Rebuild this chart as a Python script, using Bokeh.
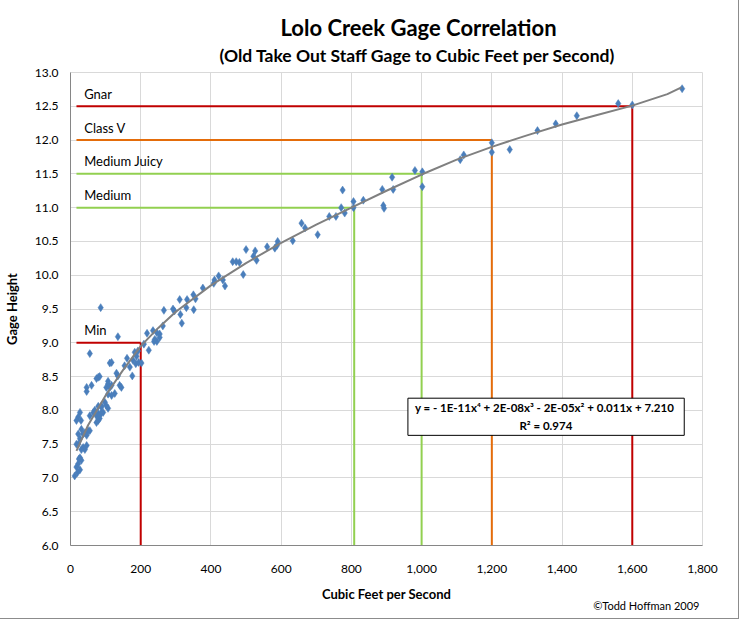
from bokeh.plotting import figure
from bokeh.models import Title, FixedTicker, NumeralTickFormatter, ColumnDataSource
from bokeh.core.properties import value
from bokeh.embed import file_html
from bokeh.resources import INLINE

# ---------------- data ----------------
title_text = "Lolo Creek Gage Correlation"
subtitle_text = "(Old Take Out Staff Gage to Cubic Feet per Second)"
x_label = "Cubic Feet per Second"
y_label = "Gage Height"
credit = "\u00a9Todd Hoffman 2009"
equation = "y =  - 1E-11x\u2074 + 2E-08x\u00b3 - 2E-05x\u00b2 + 0.011x + 7.210"
r_squared = "R\u00b2 = 0.974"

obs_cfs = [
    1742, 1600, 1560, 1442, 1382, 1330, 1251, 1200, 1200, 1120, 1110,
    1002, 1002, 981, 916, 919, 888, 891, 893, 834, 806, 806, 775, 771, 781, 756, 737,
    704, 668, 658, 633, 590, 588, 582, 560, 530, 521, 526, 500, 492, 481, 472, 462,
    440, 434, 410, 408, 422, 377,
    350, 356, 332, 311, 330, 351, 313, 317, 296, 292, 266, 263, 235, 246, 254, 218,
    238, 246, 223, 192, 209, 240, 254,
    86, 135, 55, 112, 117, 161, 183, 188, 178, 186, 194, 202, 169, 131, 135, 176,
    79, 83, 107, 154, 74,
    107, 102, 112, 117, 140, 145, 126, 117, 107, 46, 46, 60,
    98, 102, 107, 88, 93, 79, 69, 65, 74, 79, 83, 74, 27, 22, 30, 55, 17,
    31, 41, 50, 46, 36, 22, 27, 55,
    17, 22, 36, 41, 31, 46, 27, 31, 22, 17, 27, 12, 20, 24,
    88, 83, 79, 88,
]
obs_gage = [
    12.76, 12.52, 12.54, 12.36, 12.24, 12.14, 11.86, 11.96, 11.82, 11.78, 11.71,
    11.53, 11.31, 11.55, 11.45, 11.27, 11.27, 11.03, 10.99, 11.11, 11.09, 11.00, 11.26, 11.00, 10.92, 10.87, 10.87,
    10.60, 10.70, 10.77, 10.51, 10.50, 10.44, 10.40, 10.42, 10.22, 10.28, 10.36, 10.38, 10.01, 10.19, 10.20, 10.20,
    9.84, 9.93, 9.93, 9.88, 9.99, 9.81,
    9.71, 9.65, 9.64, 9.64, 9.52, 9.49, 9.42, 9.29, 9.47, 9.50, 9.48, 9.25, 9.18, 9.15, 9.13, 9.14,
    9.02, 9.02, 8.89, 8.88, 8.98, 9.05, 9.08,
    9.52, 9.09, 8.84, 8.70, 8.71, 8.77, 8.86, 8.80, 8.74, 8.69, 8.71, 8.70, 8.64, 8.55, 8.51, 8.51,
    8.49, 8.50, 8.43, 8.66, 8.47,
    8.39, 8.34, 8.34, 8.37, 8.37, 8.34, 8.25, 8.22, 8.24, 8.34, 8.28, 8.37,
    8.12, 8.07, 8.03, 8.05, 7.97, 7.95, 8.00, 7.97, 7.92, 7.85, 7.88, 7.82, 7.97, 7.90, 7.85, 7.92, 7.85,
    7.72, 7.67, 7.70, 7.63, 7.65, 7.65, 7.58, 7.70,
    7.50, 7.50, 7.45, 7.42, 7.42, 7.48, 7.30, 7.26, 7.21, 7.16, 7.12, 7.03, 7.08, 7.28,
    7.97, 7.92, 8.06, 8.07,
]

trend_cfs = [17, 50, 100, 150, 200, 250, 300, 400, 500, 600, 700, 800, 900,
             1000, 1100, 1200, 1300, 1400, 1500, 1600, 1700, 1740]
trend_gage = [7.40, 7.78, 8.22, 8.60, 8.95, 9.22, 9.46, 9.85, 10.18, 10.48, 10.75, 11.00, 11.25,
              11.49, 11.71, 11.90, 12.07, 12.23, 12.37, 12.51, 12.68, 12.78]

level_names = ["Min", "Medium", "Medium Juicy", "Class V", "Gnar"]
level_gage = [9.0, 11.0, 11.5, 12.0, 12.5]
level_cfs = [200, 808, 1000, 1200, 1600]
level_colors = ["#c00000", "#92d050", "#92d050", "#e46c0a", "#c00000"]

x_ticks = [0, 200, 400, 600, 800, 1000, 1200, 1400, 1600, 1800]
y_ticks = [6.0, 6.5, 7.0, 7.5, 8.0, 8.5, 9.0, 9.5, 10.0, 10.5, 11.0, 11.5, 12.0, 12.5, 13.0]

# ---------------- figure ----------------
FONT = "Lato"
X0, X1, Y0, Y1 = 0, 1800, 6.0, 13.0
line_start = 17

p = figure(width=733, height=613, x_range=(X0, X1), y_range=(Y0, Y1),
           output_backend="svg", toolbar_location=None,
           min_border_left=68, min_border_right=31, min_border_top=72, min_border_bottom=68)
p.background_fill_color = "white"
p.border_fill_color = "white"
p.outline_line_color = "#d9d9d9"
p.styles = {"outline": "1px solid #8c8c8c", "outline-offset": "5px"}

p.xaxis.ticker = FixedTicker(ticks=x_ticks)
p.yaxis.ticker = FixedTicker(ticks=y_ticks)
p.xaxis.formatter = NumeralTickFormatter(format="0,0")
p.yaxis.formatter = NumeralTickFormatter(format="0.0")
for ax in (p.xaxis, p.yaxis):
    ax.major_tick_line_color = None
    ax.minor_tick_line_color = None
    ax.major_tick_out = 0
    ax.minor_tick_out = 0
    ax.major_tick_in = 0
    ax.minor_tick_in = 0
    ax.axis_line_color = "#868686"
    ax.axis_line_width = 1
    ax.major_label_text_font = FONT
    ax.major_label_text_font_size = "12px"
    ax.major_label_text_color = "#000000"
    ax.axis_label_text_font = FONT
    ax.axis_label_text_font_style = "bold"
    ax.axis_label_text_font_size = "13px"
    ax.axis_label_text_color = "#000000"
p.xaxis.axis_label = x_label
p.yaxis.axis_label = y_label
p.xaxis.major_label_standoff = 19
p.yaxis.major_label_standoff = 12
p.xaxis.axis_label_standoff = 10
p.yaxis.axis_label_standoff = 12

p.xgrid.grid_line_color = "#d9d9d9"
p.ygrid.grid_line_color = "#d9d9d9"
p.xgrid.grid_line_width = 1
p.ygrid.grid_line_width = 1

# threshold lines
for name, g, c, col in zip(level_names, level_gage, level_cfs, level_colors):
    p.line([line_start, c], [g, g], line_color=col, line_width=2)
    p.line([c, c], [Y0, g], line_color=col, line_width=2)

lab_src = ColumnDataSource(dict(x=[39] * len(level_names),
                                y=[g + 0.185 for g in level_gage],
                                t=level_names))
p.text(x="x", y="y", text="t", source=lab_src, text_font=value(FONT),
       text_font_size="13px", text_color="#000000", text_baseline="middle",
       text_align="left")

# observations
p.scatter(obs_cfs, obs_gage, marker="diamond", size=8,
          fill_color="#4a7ebb", line_color="#4a7ebb", line_width=0.5)

# trendline
p.line(trend_cfs, trend_gage, line_color="#808080", line_width=2)

# equation box
p.quad(left=[961], right=[1748], bottom=[7.63], top=[8.18],
       fill_color="white", line_color="#000000", line_width=1)
eq_src = ColumnDataSource(dict(x=[1354, 1354], y=[8.035, 7.78], t=[equation, r_squared]))
p.text(x="x", y="y", text="t", source=eq_src, text_font=value(FONT),
       text_font_style="bold", text_font_size="11.5px", text_color="#000000",
       text_align="center", text_baseline="middle")

# titles (subtitle first: it sits nearest the frame) and credit
p.add_layout(Title(text=subtitle_text, align="left", offset=149, standoff=13,
                   text_font=FONT, text_font_style="bold", text_font_size="17.5px",
                   text_color="#000000"), "above")
p.add_layout(Title(text=title_text, align="left", offset=210, standoff=-8,
                   text_font=FONT, text_font_style="bold", text_font_size="22px",
                   text_color="#000000"), "above")
p.add_layout(Title(text=credit, align="right", offset=3, standoff=-12, vertical_align="top",
                   text_font=FONT, text_font_style="normal", text_font_size="11px",
                   text_color="#000000"), "below")

open("out.html", "w").write(file_html(p, INLINE))
